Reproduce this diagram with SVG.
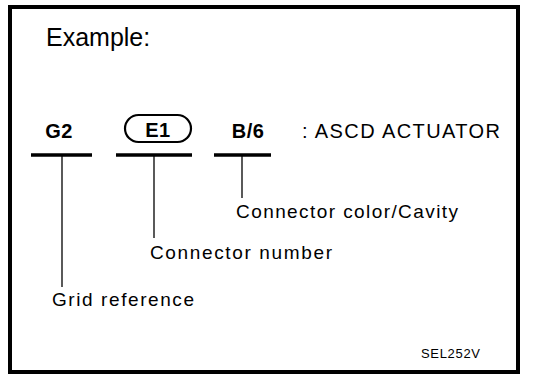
<svg xmlns="http://www.w3.org/2000/svg" width="544" height="382" viewBox="0 0 544 382">
<style>
.t{font-family:"Liberation Sans",Arial,sans-serif;fill:#000}
.n{font-size:19px}
.b{font-size:20px;font-weight:bold;letter-spacing:0.5px}
.ul{stroke:#000;stroke-width:3.5;fill:none}
.ln{stroke:#000;stroke-width:1.3;fill:none}
</style>
<rect x="0" y="0" width="544" height="382" fill="#fff"/>
<rect x="10" y="7" width="508" height="365" fill="none" stroke="#000" stroke-width="4"/>
<text class="t" x="46" y="46" font-size="25">Example:</text>
<g id="grid-ref">
<text class="t b" x="59" y="138" text-anchor="middle">G2</text>
<line class="ul" x1="31" y1="155" x2="92" y2="155"/>
</g>
<g id="connector-number">
<rect x="125" y="115" width="66" height="27" rx="13.5" ry="13.5" fill="none" stroke="#000" stroke-width="2.2"/>
<text class="t b" x="158" y="137" text-anchor="middle">E1</text>
<line class="ul" x1="116" y1="155" x2="192" y2="155"/>
</g>
<g id="connector-color">
<text class="t b" x="248" y="138" text-anchor="middle">B/6</text>
<line class="ul" x1="214" y1="155" x2="271" y2="155"/>
</g>
<g id="name">
<text class="t" x="302" y="138" font-size="20" textLength="198">: ASCD  ACTUATOR</text>
</g>
<g id="connectors">
<line class="ln" x1="62" y1="156" x2="62" y2="287"/>
<line class="ln" x1="154" y1="156" x2="154" y2="238"/>
<line class="ln" x1="242" y1="156" x2="242" y2="198"/>
</g>
<g id="label-color"><text class="t n" x="236" y="218" textLength="222">Connector  color/Cavity</text></g>
<g id="label-number"><text class="t n" x="150" y="259" textLength="182">Connector  number</text></g>
<g id="label-grid"><text class="t n" x="52" y="306" textLength="142">Grid  reference</text></g>
<text class="t" x="421" y="358" font-size="13" textLength="59">SEL252V</text>
</svg>
